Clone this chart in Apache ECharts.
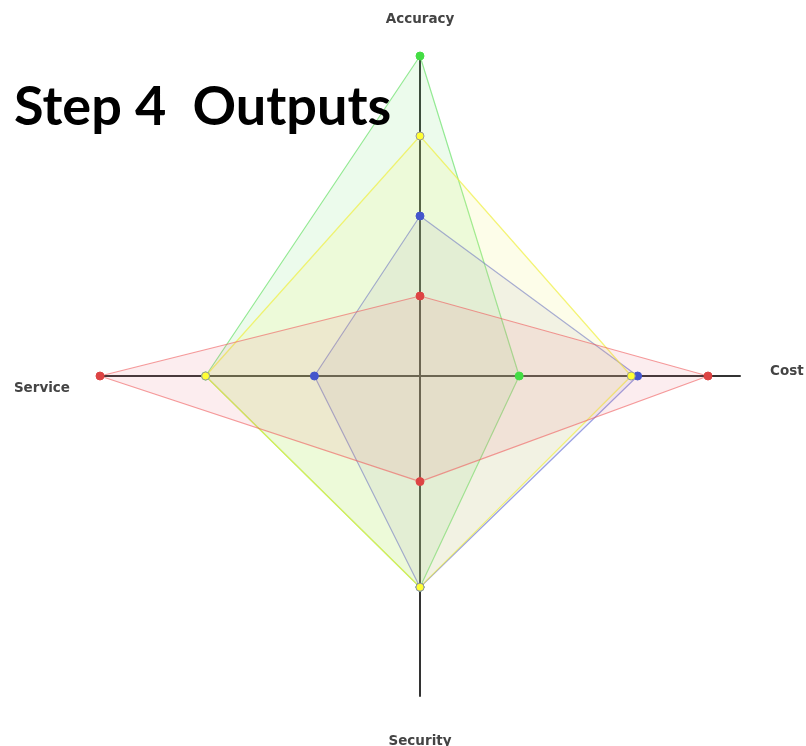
<!DOCTYPE html>
<html><head><meta charset="utf-8">
<script src="https://cdn.jsdelivr.net/npm/echarts@6/dist/echarts.min.js"></script>
<style>html,body{margin:0;padding:0;background:#fff}#c{width:806px;height:746px}</style>
</head><body><div id="c"></div>
<script>
// indicator order is counter-clockwise from the top (ECharts radar)
const indicators = ['Accuracy', 'Service', 'Security', 'Cost'];
const maxValue = 10;
const greenValues  = [10.0, 6.7, 6.6, 3.1];
const yellowValues = [7.5, 6.7, 6.6, 6.6];
const blueValues   = [5.0, 3.3, 6.6, 6.8];
const redValues    = [2.5, 10.0, 3.3, 9.0];
const titleText = 'Step 4  Outputs';

const chart = echarts.init(document.getElementById('c'), null, {renderer: 'canvas'});
function item(name, vals, line, fill, sym, border) {
  return {
    name: name, value: vals,
    symbol: 'circle', symbolSize: 8,
    lineStyle: {color: line, width: 1.2},
    areaStyle: {color: fill},
    itemStyle: {color: sym, borderColor: border, borderWidth: 1}
  };
}
const base = {color: '#444', fontFamily: 'DejaVu Sans', fontWeight: 'bold', fontSize: 13.5};
chart.setOption({
  animation: false,
  title: {
    text: titleText, left: 9, top: 76,
    textStyle: {fontFamily: 'Lato', fontWeight: 'bold', fontSize: 54, color: '#000'}
  },
  radar: {
    center: [420, 376],
    radius: 320,
    startAngle: 90,
    shape: 'polygon',
    indicator: indicators.map(n => ({name: n, max: maxValue, min: 0})),
    splitNumber: 1,
    splitLine: {show: false},
    splitArea: {show: false},
    axisLine: {lineStyle: {color: '#333', width: 2}},
    axisName: Object.assign({}, base, {
      formatter: function (v) {
        if (v === 'Cost') return '{c|' + v + '}';
        if (v === 'Service') return '{s|' + v + '}';
        if (v === 'Security') return '{b|' + v + '}';
        return v;
      },
      rich: {
        c: Object.assign({}, base, {padding: [0, 0, 10, 0]}),
        s: Object.assign({}, base, {padding: [24, 0, 0, 0]}),
        b: Object.assign({}, base, {padding: [8, 0, 0, 0]})
      }
    }),
    nameGap: 30
  },
  series: [{
    type: 'radar',
    data: [
      item('Green', greenValues, 'rgba(80,220,80,0.6)', 'rgba(120,230,120,0.2)', '#44dd44', '#44dd44'),
      item('Blue', blueValues, 'rgba(90,100,210,0.6)', 'rgba(120,120,180,0.14)', '#4455cc', '#4455cc'),
      item('Yellow', yellowValues, 'rgba(240,240,60,0.7)', 'rgba(245,245,110,0.22)', '#ffff33', '#999'),
      item('Red', redValues, 'rgba(240,90,90,0.6)', 'rgba(230,100,120,0.17)', '#dd4444', '#dd4444')
    ]
  }]
});
</script></body></html>
